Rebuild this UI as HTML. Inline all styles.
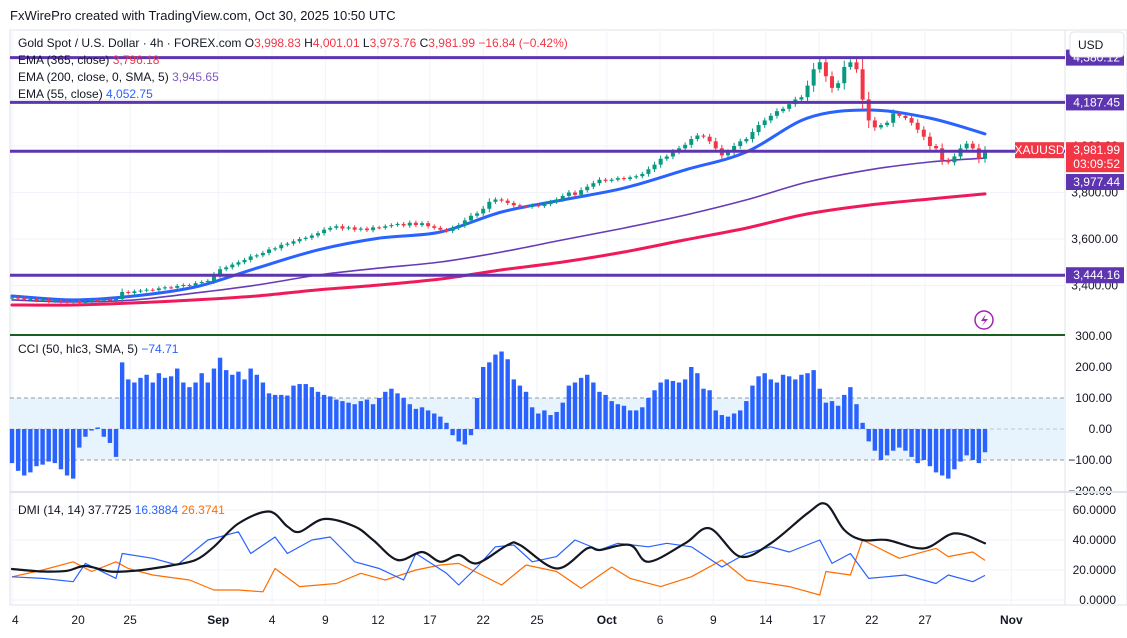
<!DOCTYPE html>
<html><head><meta charset="utf-8">
<style>
html,body{margin:0;padding:0;background:#fff;}
body{width:1127px;height:633px;overflow:hidden;font-family:"Liberation Sans",sans-serif;}
svg text{font-family:"Liberation Sans",sans-serif;}
</style></head>
<body>
<svg id="chart" width="1127" height="633" viewBox="0 0 1127 633" xmlns="http://www.w3.org/2000/svg">
  <rect x="0" y="0" width="1127" height="633" fill="#fff"/>
  <text x="10" y="20" font-size="13" fill="#131722">FxWirePro created with TradingView.com, Oct 30, 2025 10:50 UTC</text>
  <rect x="10" y="30" width="1117" height="575" fill="none" stroke="#e0e3eb"/>
  <line x1="1065" y1="30" x2="1065" y2="605" stroke="#e0e3eb"/>
  <g id="grid"></g>
  <g id="cciPane"></g>
  <g id="mainPane"></g>
  <g id="dmiPane"></g>
  <g id="axes"></g>
  <line x1="10" y1="335" x2="1065" y2="335" stroke="#1b5e20" stroke-width="2"/>
  <line x1="10" y1="492" x2="1127" y2="492" stroke="#e0e3eb" stroke-width="2"/>
  <g font-size="12">
    <text x="18" y="47" fill="#131722">Gold Spot / U.S. Dollar · 4h · FOREX.com  <tspan>O</tspan><tspan fill="#f23645">3,998.83</tspan> <tspan>H</tspan><tspan fill="#f23645">4,001.01</tspan> <tspan>L</tspan><tspan fill="#f23645">3,973.76</tspan> <tspan>C</tspan><tspan fill="#f23645">3,981.99</tspan> <tspan fill="#f23645">−16.84 (−0.42%)</tspan></text>
    <text x="18" y="64" fill="#131722">EMA (365, close)  <tspan fill="#f23645">3,796.18</tspan></text>
    <text x="18" y="81" fill="#131722">EMA (200, close, 0, SMA, 5)  <tspan fill="#7e57c2">3,945.65</tspan></text>
    <text x="18" y="98" fill="#131722">EMA (55, close)  <tspan fill="#2962ff">4,052.75</tspan></text>
    <text x="18" y="353" fill="#131722">CCI (50, hlc3, SMA, 5)  <tspan fill="#2962ff">−74.71</tspan></text>
    <text x="18" y="514" fill="#131722">DMI (14, 14)  37.7725  <tspan fill="#2962ff">16.3884</tspan>  <tspan fill="#ff6d00">26.3741</tspan></text>
  </g>
  <g id="labels"></g>
  <g>
    <rect x="1070" y="32" width="54" height="25" rx="4" fill="#fff" stroke="#e0e3eb"/>
    <text x="1078" y="49" font-size="12" fill="#131722">USD</text>
  </g>
  <g>
    <circle cx="984" cy="320" r="9" fill="#fff" stroke="#9c27b0" stroke-width="1.5"/>
    <path d="M986 314 L981 321 L985 321 L982 326 L988 319 L984 319 Z" fill="#9c27b0"/>
  </g>
</svg>
<script>
const closes = [3348,3345,3340,3342,3336,3338,3332,3335,3330,3328,3334,3325,3330,3338,3335,3340,3336,3342,
3372,3368,3375,3378,3382,3380,3388,3392,3390,3398,3402,3400,3410,3415,3420,
3445,3470,3478,3490,3500,3510,3525,3530,
3540,3555,3560,3575,3580,3590,3600,3605,3615,3625,3640,3648,
3655,3645,3650,3640,3645,3638,3650,3648,3655,3660,3665,3658,3670,3660,3668,3655,3648,3640,
3635,3648,3660,3680,3700,3710,3730,3760,3770,3765,3755,3745,3740,3738,3745,
3742,3750,3760,3770,3785,3800,3790,3810,3825,3840,3855,
3850,3855,3862,3858,3865,3870,3880,3900,3920,3945,
3955,3975,3990,4005,4030,4045,4040,4020,
3990,3960,3975,4000,4020,4030,
4060,4090,4110,4130,4150,4160,4180,4200,4210,4260,4330,
4360,4300,4250,4270,4340,4360,4330,
4200,4110,4080,4090,4100,4140,
4130,4120,4100,4070,4040,4000,3990,3940,
3930,3955,3990,4010,3990,3945,3982];
const emaIdx = [0,10,20,30,40,50,60,70,80,90,100,110,120,130,140,150,159];
const ema55 = [3355,3338,3355,3394,3475,3553,3604,3630,3716,3768,3819,3897,3974,4120,4155,4120,4052];
const ema200 = [3338,3329,3338,3368,3402,3445,3475,3501,3544,3596,3647,3703,3768,3845,3897,3931,3948];
const ema365 = [3316,3316,3325,3338,3355,3381,3402,3428,3467,3501,3544,3596,3647,3708,3746,3772,3794];
const hLevels = [4380.12,4187.45,3977.44,3444.16];
const priceTicks = [3400,3600,3800,4000,4200];
const cci = [-110,-135,-150,-140,-120,-115,-105,-110,-130,-150,-160,
-60,-25,-5,5,-25,-45,-90,
215,160,150,165,175,150,180,165,170,195,150,135,150,180,150,195,
230,190,175,185,160,195,175,150,115,
110,110,108,140,145,145,135,120,110,105,
95,90,85,80,90,95,80,100,120,
130,115,100,80,65,70,60,50,
40,20,-20,-40,-50,-20,
100,200,215,240,250,225,
160,140,120,70,50,60,45,55,
85,140,150,165,175,150,120,
110,90,80,75,60,60,70,100,125,150,
160,155,150,160,200,180,130,125,
60,45,40,50,60,90,
140,170,180,160,150,175,170,160,175,180,190,
130,85,90,75,110,135,80,
20,-40,-70,-100,-85,-70,
-60,-70,-90,-110,-100,-120,-140,-150,
-160,-130,-105,-85,-100,-110,-75];
const cciTicks = [300,200,100,0,-100,-200];
const adxIdx = [0,5,9,12,16,20,23,26,30,33,37,42,45,47,51,56,59,63,67,70,73,76,81,83,89,94,96,101,104,110,114,119,124,130,133,136,139,143,149,154,159];
const adx = [20.7,19,19.5,22.7,19,19.5,21,23,26.7,35.5,51,59,49,45.5,54,49,40,26.7,32,25.5,30,24.5,36.7,36.7,21,34.4,33.3,36.7,25.5,37.8,47.8,28.9,37.8,57.8,64,46.7,40,40,34.4,44.4,37.8];
const plusIdx = [0,5,10,12,17,18,23,27,32,37,39,43,45,49,52,56,60,64,66,71,73,76,79,82,85,89,92,96,99,104,107,111,116,120,124,127,132,134,137,140,146,151,153,157,159];
const plusDI = [15.5,14.4,12.2,24.4,14.4,31,27.8,23.3,40,45.5,31,42,31,40,42,25.5,21,13.3,31,17.8,10,22,35.5,36.7,25.5,28.9,40,33.3,37.8,35.5,37.8,35.5,22,31,35.5,32,40,24.4,31,14.4,16.7,11,16.7,12.2,16.4];
const minusIdx = [0,5,10,13,17,19,23,29,33,37,41,43,47,53,57,61,66,70,73,80,84,89,93,98,101,106,111,116,120,127,132,133,137,139,145,151,153,157,159];
const minusDI = [15.5,20,25.5,19,25.5,21,16.7,13.3,6.7,6.7,5.5,21,8.9,11,17.8,13.3,20,23.3,24.4,10,23.3,19,7.8,22,14.4,8.9,15.5,26.7,13.3,8.9,3.3,19,16.7,40,27.8,34.4,28.9,32,26.4];
const dmiTicks = [60,40,20,0];
const dateLabels = ["4","20","25","Sep","4","9","12","17","22","25","Oct","6","9","14","17","22","27","Nov"];
const dateBars = [0,10.8,19.3,33.7,42.5,51.2,59.8,68.3,77,85.8,97.2,105.9,114.6,123.2,131.9,140.5,149.2,163.3];

const NS="http://www.w3.org/2000/svg";
function mk(tag,attrs,parent){const e=document.createElementNS(NS,tag);for(const k in attrs)e.setAttribute(k,attrs[k]);parent.appendChild(e);return e;}
const X0=12, STEP=(985-12)/(closes.length-1);
const xOf=i=>X0+i*STEP;
const yP=p=>146-(p-4000)*0.2325;
const yC=v=>429-v*0.31;
const yD=v=>600-v*1.5;
const grid=document.getElementById('grid'), main=document.getElementById('mainPane'),
      cp=document.getElementById('cciPane'), dp=document.getElementById('dmiPane'),
      axes=document.getElementById('axes'), labels=document.getElementById('labels');

dateLabels.forEach((t,k)=>{
  const x=xOf(dateBars[k]);
  const g=mk('line',{x1:x,y1:30,x2:x,y2:605,stroke:'#f0f3fa'},grid);
  
  
  const bold=(t==="Sep"||t==="Oct"||t==="Nov");
  const tx=mk('text',{x:x,y:624,'font-size':12,'text-anchor':(k===0?'start':'middle'),fill:'#131722','font-weight':bold?'bold':'normal'},axes);
  tx.textContent=t;
  
  
});
priceTicks.forEach(p=>{
  const y=yP(p);
  const g=mk('line',{x1:10,y1:y,x2:1065,y2:y,stroke:'#f0f3fa'},grid);
  
  
  const t=mk('text',{x:1118,y:y+4,'font-size':12,'text-anchor':'end',fill:'#131722'},axes);
  t.textContent=p.toLocaleString('en-US',{minimumFractionDigits:2});
  
  
});
const band=mk('rect',{x:10,y:yC(100),width:1055,height:yC(-100)-yC(100),fill:'#e8f4fd'},cp);


cciTicks.forEach(v=>{
  const y=yC(v);
  if(v===100||v===-100||v===0){
    const l=mk('line',{x1:10,y1:y,x2:1065,y2:y,stroke:'#9598a1','stroke-dasharray':'4,3','stroke-width':(v===0?0.6:1)},cp);
    
    
  }
  const t=mk('text',{x:1112,y:y+4,'font-size':12,'text-anchor':'end',fill:'#131722'},axes);
  t.textContent=(v<0?'−':'')+Math.abs(v).toFixed(2);
  
  
});
cci.forEach((v,i)=>{
  const x=xOf(i), y0=yC(0), y=yC(v);
  const r=mk('rect',{x:x-2.2,y:Math.min(y,y0),width:4.4,height:Math.max(1,Math.abs(y-y0)),fill:'#2962ff'},cp);
  
  
});
dmiTicks.forEach(v=>{
  const y=yD(v);
  const g=mk('line',{x1:10,y1:y,x2:1065,y2:y,stroke:'#f0f3fa'},grid);
  
  
  const t=mk('text',{x:1116,y:y+4,'font-size':12,'text-anchor':'end',fill:'#131722'},axes);
  t.textContent=v.toFixed(4);
  
  
});
function line(idx,vals,yf,color,w,parent,name){
  const pts=idx.map((i,k)=>xOf(i).toFixed(1)+','+yf(vals[k]).toFixed(1)).join(' ');
  const pl=mk('polyline',{points:pts,fill:'none',stroke:color,'stroke-width':w,'stroke-linejoin':'round'},parent);
  
  
}
function smooth(idx,vals,yf,color,w,parent,name){
  const P=idx.map((i,k)=>[xOf(i),yf(vals[k])]);
  let d='M'+P[0][0].toFixed(1)+','+P[0][1].toFixed(1);
  for(let k=0;k<P.length-1;k++){
    const p0=P[Math.max(0,k-1)],p1=P[k],p2=P[k+1],p3=P[Math.min(P.length-1,k+2)];
    const c1=[p1[0]+(p2[0]-p0[0])/6,p1[1]+(p2[1]-p0[1])/6];
    const c2=[p2[0]-(p3[0]-p1[0])/6,p2[1]-(p3[1]-p1[1])/6];
    d+=' C'+c1[0].toFixed(1)+','+c1[1].toFixed(1)+' '+c2[0].toFixed(1)+','+c2[1].toFixed(1)+' '+p2[0].toFixed(1)+','+p2[1].toFixed(1);
  }
  const pa=mk('path',{d:d,fill:'none',stroke:color,'stroke-width':w,'stroke-linecap':'round'},parent);
  
  
}
line(minusIdx,minusDI,yD,'#ff6d00',1.2,dp,'minus-di-line');
line(plusIdx,plusDI,yD,'#2962ff',1.2,dp,'plus-di-line');
smooth(adxIdx,adx,yD,'#131722',2.2,dp,'adx-line');
smooth(emaIdx,ema365,yP,'#f0195a',3,main,'ema365-line');
smooth(emaIdx,ema200,yP,'#673ab7',1.6,main,'ema200-line');
smooth(emaIdx,ema55,yP,'#2962ff',3,main,'ema55-line');
closes.forEach((c,i)=>{
  const o=i===0?c:closes[i-1];
  const up=c>=o, col=up?'#089981':'#f23645';
  const wig=Math.abs(c-o)*0.3+6;
  const x=xOf(i);
  const w=mk('line',{x1:x,y1:yP(Math.max(o,c)+wig),x2:x,y2:yP(Math.min(o,c)-wig),stroke:col,'stroke-width':1},main);
  
  
  const b=mk('rect',{x:x-2,y:yP(Math.max(o,c)),width:4,height:Math.max(1,Math.abs(yP(o)-yP(c))),fill:col},main);
  
  
});
hLevels.forEach((p,k)=>{
  const y=yP(p);
  const l=mk('line',{x1:10,y1:y,x2:1065,y2:y,stroke:'#5e35b1','stroke-width':3},main);
  
  
  const ly=(k===2)?182:y;
  const r=mk('rect',{x:1066,y:ly-8,width:58,height:16,fill:'#5e35b1'},labels);
  
  
  const t=mk('text',{x:1120,y:ly+4,'font-size':12,'text-anchor':'end',fill:'#fff'},labels);
  t.textContent=p.toLocaleString('en-US',{minimumFractionDigits:2});
  
  
});
const lastY=yP(closes[closes.length-1]);
const lp=mk('rect',{x:1066,y:lastY-8,width:58,height:30,fill:'#f23645'},labels);


const lt=mk('text',{x:1120,y:lastY+4,'font-size':12,'text-anchor':'end',fill:'#fff'},labels);
lt.textContent='3,981.99';


const ct=mk('text',{x:1120,y:lastY+18,'font-size':12,'text-anchor':'end',fill:'#fff'},labels);
ct.textContent='03:09:52';


const sr=mk('rect',{x:1015,y:lastY-8,width:49,height:16,fill:'#f23645'},labels);


const st=mk('text',{x:1039.5,y:lastY+4,'font-size':12,'text-anchor':'middle',fill:'#fff'},labels);
st.textContent='XAUUSD';


</script>
</body></html>
